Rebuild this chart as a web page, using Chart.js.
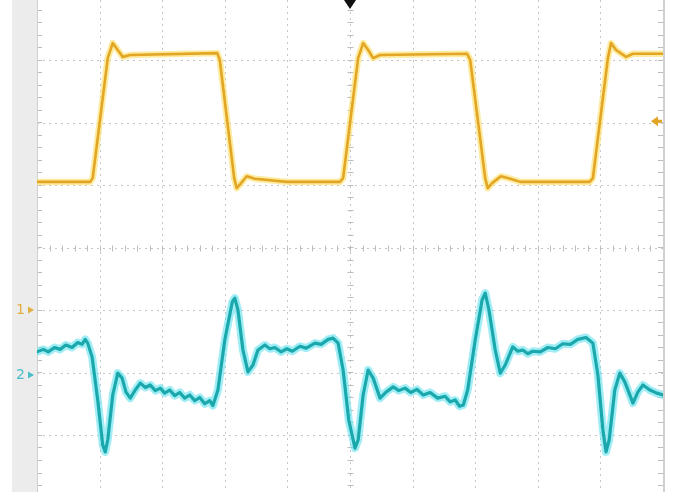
<!DOCTYPE html>
<html lang="en">
<head>
    <meta charset="UTF-8">
    <title>Scope Capture</title>
    <script src="https://cdn.jsdelivr.net/npm/chart.js"></script>
    <style>
        body { margin: 0; background: #fff; }
        #wrap { width: 673px; height: 492px; }
    </style>
</head>
<body>
<div id="wrap">
  <canvas id="ScopeChart" width="673" height="492"></canvas>
</div>
<script>
// time in divisions (-5 .. 5), amplitude in divisions
const ch1Time = [-5.00, -4.15, -4.11, -3.87, -3.79, -3.71, -3.63, -3.51, -2.12, -2.08, -1.85, -1.81, -1.74, -1.65, -1.52, -1.01,
                 -0.16, -0.11, 0.13, 0.21, 0.29, 0.37, 0.48, 1.87, 1.92, 2.16, 2.20, 2.27, 2.41, 2.56, 2.72,
                 3.83, 3.88, 4.12, 4.17, 4.25, 4.41, 4.52, 5.00];
const ch1Volts = [1.05, 1.05, 1.11, 3.03, 3.27, 3.16, 3.05, 3.08, 3.11, 3.00, 1.11, 0.95, 1.03, 1.14, 1.10, 1.05,
                  1.05, 1.11, 3.03, 3.27, 3.16, 3.03, 3.08, 3.10, 3.00, 1.11, 0.95, 1.03, 1.14, 1.10, 1.05,
                  1.05, 1.11, 3.03, 3.27, 3.16, 3.05, 3.10, 3.10];

const ch2Time = [-5.00, -4.90, -4.82, -4.72, -4.63, -4.54, -4.44, -4.35, -4.28, -4.23, -4.19, -4.12, -4.03, -3.95, -3.91, -3.87,
                 -3.79, -3.71, -3.64, -3.58, -3.51, -3.43, -3.35, -3.27, -3.19, -3.11, -3.03, -2.96, -2.88, -2.80, -2.72,
                 -2.64, -2.56, -2.48, -2.40, -2.32, -2.24, -2.19, -2.11, -2.00, -1.88, -1.84, -1.79, -1.71, -1.63, -1.55,
                 -1.47, -1.36, -1.28, -1.20, -1.10, -1.01, -0.92, -0.80, -0.70, -0.56, -0.46, -0.35, -0.27, -0.19, -0.11,
                 -0.02, 0.08, 0.13, 0.21, 0.29, 0.37, 0.48, 0.58, 0.69, 0.78, 0.88, 0.97, 1.07, 1.17, 1.28,
                 1.40, 1.52, 1.60, 1.68, 1.75, 1.81, 1.88, 2.00, 2.11, 2.16, 2.22, 2.32, 2.40, 2.48, 2.60,
                 2.68, 2.76, 2.84, 2.92, 3.04, 3.16, 3.28, 3.40, 3.52, 3.64, 3.77, 3.88, 3.96, 4.04, 4.09,
                 4.14, 4.23, 4.31, 4.39, 4.52, 4.60, 4.68, 4.79, 4.90, 5.00];
const ch2Volts = [-1.67, -1.63, -1.67, -1.60, -1.63, -1.56, -1.60, -1.52, -1.55, -1.47, -1.53, -1.75, -2.44, -3.16, -3.27, -3.08,
                  -2.36, -2.01, -2.09, -2.31, -2.41, -2.28, -2.17, -2.24, -2.20, -2.29, -2.25, -2.33, -2.28, -2.37, -2.32,
                  -2.41, -2.36, -2.45, -2.40, -2.50, -2.45, -2.53, -2.28, -1.48, -0.87, -0.81, -1.00, -1.64, -1.99, -1.88,
                  -1.64, -1.56, -1.62, -1.60, -1.67, -1.62, -1.66, -1.58, -1.61, -1.53, -1.55, -1.47, -1.45, -1.53, -1.96,
                  -2.76, -3.21, -3.08, -2.36, -1.96, -2.09, -2.41, -2.31, -2.23, -2.29, -2.25, -2.32, -2.27, -2.36, -2.32,
                  -2.41, -2.38, -2.47, -2.44, -2.54, -2.52, -2.28, -1.48, -0.84, -0.73, -1.00, -1.64, -2.01, -1.88, -1.59,
                  -1.66, -1.64, -1.70, -1.66, -1.67, -1.60, -1.62, -1.54, -1.55, -1.47, -1.44, -1.53, -2.04, -2.92, -3.27,
                  -3.08, -2.28, -2.01, -2.15, -2.49, -2.31, -2.20, -2.28, -2.33, -2.36];

// marker positions (divisions)
const ch1Ground = -1.00;
const ch2Ground = -2.04;
const trigLevel = 2.02;
const trigPos = 0;

const xDivs = [-5, -4, -3, -2, -1, 0, 1, 2, 3, 4, 5];
const yDivs = [-3, -2, -1, 0, 1, 2, 3];

const ch1Core = '#e3a524', ch1Glow = 'rgba(252,224,110,0.65)';
const ch2Core = '#1ba8ac', ch2Glow = 'rgba(110,228,240,0.65)';

function pts(xs, ys) {
    return xs.map((x, i) => ({ x: x, y: ys[i] }));
}

// graticule, ticks and channel markers
const scopePlugin = {
    id: 'scope',
    beforeDraw(chart) {
        const ctx = chart.ctx;
        const a = chart.chartArea;
        const xs = chart.scales.x, ys = chart.scales.y;
        ctx.save();
        ctx.fillStyle = '#fff';
        ctx.fillRect(0, 0, chart.width, chart.height);
        ctx.fillStyle = '#ececec';
        ctx.fillRect(12, 0, a.left - 12, chart.height);

        // dotted grid
        ctx.strokeStyle = '#c6c6c6';
        ctx.lineWidth = 1;
        ctx.setLineDash([2, 4]);
        xDivs.forEach(v => {
            const px = Math.round(xs.getPixelForValue(v)) + 0.5;
            ctx.beginPath(); ctx.moveTo(px, a.top); ctx.lineTo(px, a.bottom); ctx.stroke();
        });
        yDivs.forEach(v => {
            const py = Math.round(ys.getPixelForValue(v)) + 0.5;
            ctx.beginPath(); ctx.moveTo(a.left, py); ctx.lineTo(a.right, py); ctx.stroke();
        });
        ctx.setLineDash([]);

        // minor ticks on centre lines and frame edges
        ctx.strokeStyle = '#bdbdbd';
        const cx = Math.round(xs.getPixelForValue(0)) + 0.5;
        const cy = Math.round(ys.getPixelForValue(0)) + 0.5;
        for (let v = -5; v <= 5.001; v += 0.2) {
            const px = Math.round(xs.getPixelForValue(v)) + 0.5;
            ctx.beginPath(); ctx.moveTo(px, cy - 3); ctx.lineTo(px, cy + 3); ctx.stroke();
        }
        for (let v = -4; v <= 4.001; v += 0.2) {
            const py = Math.round(ys.getPixelForValue(v)) + 0.5;
            ctx.beginPath(); ctx.moveTo(cx - 3, py); ctx.lineTo(cx + 3, py); ctx.stroke();
            ctx.beginPath(); ctx.moveTo(a.left, py); ctx.lineTo(a.left + 5, py); ctx.stroke();
            ctx.beginPath(); ctx.moveTo(a.right - 5, py); ctx.lineTo(a.right, py); ctx.stroke();
        }
        ctx.strokeStyle = '#d0d0d0';
        ctx.beginPath(); ctx.moveTo(a.left + 0.5, a.top); ctx.lineTo(a.left + 0.5, a.bottom); ctx.stroke();
        ctx.lineWidth = 2;
        ctx.beginPath(); ctx.moveTo(a.right + 1, a.top); ctx.lineTo(a.right + 1, a.bottom); ctx.stroke();
        ctx.restore();
    },
    afterDraw(chart) {
        const ctx = chart.ctx;
        const a = chart.chartArea;
        const xs = chart.scales.x, ys = chart.scales.y;
        ctx.save();

        // trigger position
        const tx = xs.getPixelForValue(trigPos);
        ctx.fillStyle = '#111';
        ctx.beginPath();
        ctx.moveTo(tx - 6, a.top); ctx.lineTo(tx + 6, a.top); ctx.lineTo(tx, a.top + 9);
        ctx.closePath(); ctx.fill();

        // trigger level
        const ty = ys.getPixelForValue(trigLevel);
        ctx.fillStyle = ch1Core;
        ctx.beginPath();
        ctx.moveTo(a.right - 12, ty); ctx.lineTo(a.right - 5, ty - 5); ctx.lineTo(a.right - 5, ty + 5);
        ctx.closePath(); ctx.fill();
        ctx.fillRect(a.right - 6, ty - 1.5, 5, 3);

        // channel ground markers
        ctx.font = '14px "DejaVu Sans", sans-serif';
        ctx.textBaseline = 'middle';
        [[ch1Ground, '1', ch1Core], [ch2Ground, '2', '#2fb6c4']].forEach(m => {
            const py = ys.getPixelForValue(m[0]);
            ctx.fillStyle = m[2];
            ctx.globalAlpha = 0.85;
            ctx.fillText(m[1], 16, py);
            ctx.beginPath();
            ctx.moveTo(28, py - 3.5); ctx.lineTo(34, py); ctx.lineTo(28, py + 3.5);
            ctx.closePath(); ctx.fill();
        });
        ctx.restore();
    }
};

// glow layers get a higher order so they are drawn underneath the cores
function traceSet(label, data, color, width, order) {
    return {
        label: label,
        data: data,
        borderColor: color,
        borderWidth: width,
        order: order,
        pointRadius: 0,
        tension: 0,
        borderJoinStyle: 'round',
        borderCapStyle: 'round'
    };
}

const ctx = document.getElementById('ScopeChart').getContext('2d');
new Chart(ctx, {
    type: 'line',
    data: {
        datasets: [
            traceSet('CH1 glow', pts(ch1Time, ch1Volts), ch1Glow, 6.5, 2),
            traceSet('CH1', pts(ch1Time, ch1Volts), ch1Core, 2.6, 1),
            traceSet('CH2 glow', pts(ch2Time, ch2Volts), ch2Glow, 8, 2),
            traceSet('CH2', pts(ch2Time, ch2Volts), ch2Core, 3.2, 1)
        ]
    },
    options: {
        responsive: false,
        animation: false,
        layout: { padding: { left: 37, right: 10, top: 0, bottom: 0 } },
        plugins: { legend: { display: false }, tooltip: { enabled: false } },
        scales: {
            x: { type: 'linear', min: -5, max: 5, display: false },
            y: { type: 'linear', min: -3.912, max: 3.96, display: false }
        }
    },
    plugins: [scopePlugin]
});
</script>
</body>
</html>
